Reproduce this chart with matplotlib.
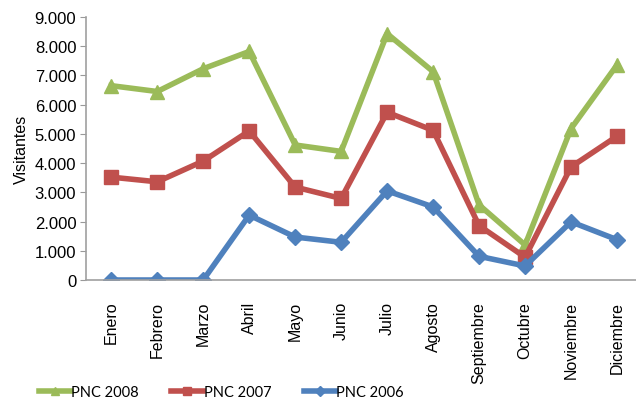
import matplotlib.pyplot as plt
from matplotlib.ticker import FuncFormatter

meses = ['Enero', 'Febrero', 'Marzo', 'Abril', 'Mayo', 'Junio', 'Julio',
         'Agosto', 'Septiembre', 'Octubre', 'Noviembre', 'Diciembre']
pnc_2008 = [6650, 6450, 7230, 7820, 4620, 4400, 8430, 7130, 2570, 1200, 5180, 7360]
pnc_2007 = [3520, 3360, 4070, 5100, 3180, 2790, 5740, 5120, 1860, 780, 3870, 4920]
pnc_2006 = [0, 0, 0, 2220, 1470, 1290, 3050, 2500, 810, 480, 1990, 1380]

plt.rcParams['font.family'] = ['Liberation Sans', 'DejaVu Sans']

fig = plt.figure(figsize=(6.36, 4.02), dpi=100)
ax = fig.add_axes([86 / 636, 1 - 281 / 402, (640 - 86) / 636, (281 - 18) / 402])

x = range(len(meses))
ax.plot(x, pnc_2008, color='#9BBB59', lw=4, marker='^', ms=10, label='PNC 2008')
ax.plot(x, pnc_2007, color='#C0504D', lw=4, marker='s', ms=10, label='PNC 2007')
ax.plot(x, pnc_2006, color='#4F81BD', lw=4, marker='D', ms=8, label='PNC 2006')

ax.set_xlim(-0.55, 11.5)
ax.set_ylim(0, 9000)
ax.set_yticks(range(0, 9001, 1000))
ax.yaxis.set_major_formatter(FuncFormatter(lambda v, p: f'{int(v):,}'.replace(',', '.')))
ax.set_xticks(list(x))
ax.set_xticklabels(meses, rotation=90, fontsize=11.5)
ax.tick_params(axis='x', length=0, pad=15)
ax.tick_params(axis='y', labelsize=12, length=4, color='#999999', pad=3)

for side in ['top', 'right']:
    ax.spines[side].set_visible(False)
for side in ['left', 'bottom']:
    ax.spines[side].set_color('#A0A0A0')
    ax.spines[side].set_linewidth(1.2)

ax.set_ylabel('Visitantes', fontsize=11.5, labelpad=4)

fig.legend(loc='center', bbox_to_anchor=(0.348, 1 - 393 / 402), ncol=3, frameon=False,
           handlelength=2.2, columnspacing=2.2, handletextpad=0.05, markerscale=0.6,
           prop={'family': ['Lato', 'DejaVu Sans'], 'size': 10.5})

fig.savefig('out.png', dpi=100)
